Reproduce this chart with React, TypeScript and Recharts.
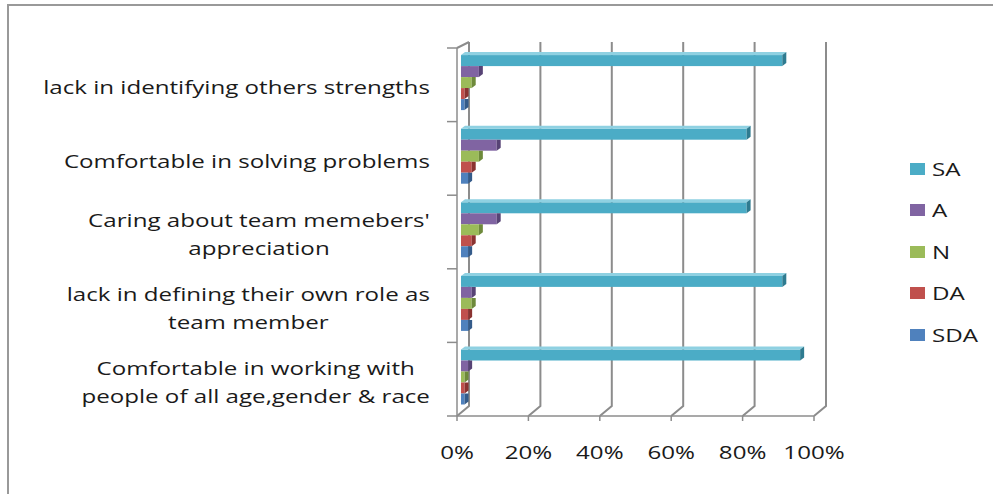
import React from 'react';
import { BarChart, Bar, XAxis, YAxis, CartesianGrid, Legend } from 'recharts';

// statements, top to bottom as they appear on the chart
const categories = [
  'lack in identifying others strengths',
  'Comfortable in solving problems',
  "Caring about team memebers'\nappreciation",
  'lack in defining their own role as\nteam member',
  'Comfortable in working with\npeople of all age,gender & race',
];

const saValues = [90, 80, 80, 90, 95];
const aValues = [5, 10, 10, 3, 2];
const nValues = [3, 5, 5, 3, 1];
const daValues = [1, 3, 3, 2, 1];
const sdaValues = [1, 2, 2, 2, 1];

const xTicks = [0, 20, 40, 60, 80, 100];

const data = categories.map((name, i) => ({
  name,
  SA: saValues[i],
  A: aValues[i],
  N: nValues[i],
  DA: daValues[i],
  SDA: sdaValues[i],
}));

const series = [
  { key: 'SA', fill: '#4BACC6', top: '#8fd1e2', side: '#2e7b90' },
  { key: 'A', fill: '#8064A2', top: '#a68ec4', side: '#574375' },
  { key: 'N', fill: '#9BBB59', top: '#c0d98e', side: '#6e8a3b' },
  { key: 'DA', fill: '#C0504D', top: '#d98583', side: '#8a3331' },
  { key: 'SDA', fill: '#4F81BD', top: '#87aad8', side: '#345b8a' },
];
const seriesOrder = series.map((s) => s.key);

const W = 993;
const H = 494;
const TOP = 48;
const BOTTOM = 416;
const LEFT = 457;
const RIGHT = 814;
const X_AXIS_H = 40;

// 3d look: back wall offset, bar offset and depth
const DX = 12;
const DY_TOP = -6;
const DY_BOT = -10;
const OX = 4;
const OY = -1;
const BD = 4;
const BDY = 3;

const FRAME = '#8c8c8c';
const TEXT = '#1a1a1a';
const FONT = '"Open Sans", sans-serif';
const FS = 19;
const SX = 1.27;

let ctx: CanvasRenderingContext2D | null = null;
const measure = (s: string) => {
  if (!ctx) ctx = document.createElement('canvas').getContext('2d');
  if (!ctx) return s.length * FS * 0.5;
  ctx.font = `${FS}px "Open Sans"`;
  return ctx.measureText(s).width;
};

const CategoryTick = (props: any) => {
  const { x, y, payload, index } = props;
  const lines = String(payload.value).split('\n');
  const maxW = Math.max(...lines.map(measure)) * SX;
  const cx = x - maxW / 2;
  const lh = 28;
  const y0 = y - ((lines.length - 1) * lh) / 2 + 2;
  const band = (BOTTOM - TOP) / categories.length;
  return (
    <g>
      <line x1={LEFT - 10} x2={LEFT} y1={y - band / 2} y2={y - band / 2} stroke={FRAME} strokeWidth={1.5} />
      {index === categories.length - 1 && (
        <line x1={LEFT - 10} x2={LEFT} y1={y + band / 2} y2={y + band / 2} stroke={FRAME} strokeWidth={1.5} />
      )}
      <g transform={`translate(${cx},0) scale(${SX},1)`}>
        {lines.map((l, i) => (
          <text
            key={i}
            x={0}
            y={y0 + i * lh}
            textAnchor="middle"
            dominantBaseline="central"
            fontFamily={FONT}
            fontSize={FS}
            fill={TEXT}
          >
            {l}
          </text>
        ))}
      </g>
    </g>
  );
};

const ValueTick = (props: any) => {
  const { x, y, payload } = props;
  return (
    <g transform={`translate(${x},${y + 29}) scale(${SX},1)`}>
      <text x={0} y={0} textAnchor="middle" dominantBaseline="central" fontFamily={FONT} fontSize={FS} fill={TEXT}>
        {`${payload.value}%`}
      </text>
    </g>
  );
};

const wallLine = (props: any) => {
  const { x1, y1, y2 } = props;
  const isLeft = Math.abs(x1 - LEFT) < 1;
  return (
    <g key={`wall-${x1}`}>
      <polyline
        points={`${x1 + DX},${y1 + DY_TOP} ${x1 + DX},${y2 + DY_BOT} ${x1},${y2}`}
        fill="none"
        stroke={FRAME}
        strokeWidth={2}
      />
      {isLeft && (
        <line x1={x1} y1={y1} x2={x1 + DX} y2={y1 + DY_TOP} stroke={FRAME} strokeWidth={2} />
      )}
    </g>
  );
};

const makeShape = (s: (typeof series)[number], first: boolean) => (props: any) => {
  const { x, y, width, height } = props;
  if (x == null || y == null || !height) return <g />;
  const w = Math.max(width || 0, 0);
  const fx = x + OX;
  const fy = y + OY;
  const xr = fx + w;
  const yb = fy + height;
  return (
    <g>
      <rect x={fx} y={fy} width={w} height={height} fill={s.fill} />
      {first ? (
        <>
          <polygon points={`${fx},${fy} ${fx + BD},${fy - BDY} ${xr + BD},${fy - BDY} ${xr},${fy}`} fill={s.top} />
          <polygon points={`${xr},${fy} ${xr + BD},${fy - BDY} ${xr + BD},${yb - BDY} ${xr},${yb}`} fill={s.side} />
        </>
      ) : (
        <polygon points={`${xr},${fy} ${xr + BD},${fy} ${xr + BD},${yb - BDY} ${xr},${yb}`} fill={s.side} />
      )}
    </g>
  );
};

const renderLegend = (props: any) => {
  const items = [...(props.payload || [])].sort(
    (a: any, b: any) => seriesOrder.indexOf(String(a.value)) - seriesOrder.indexOf(String(b.value))
  );
  return (
    <div>
      {items.map((p: any) => (
        <div key={p.value} style={{ height: 41.5, display: 'flex', alignItems: 'center' }}>
          <span style={{ display: 'inline-block', width: 15, height: 12, background: p.color, marginRight: 7 }} />
          <span
            style={{
              display: 'inline-block',
              fontFamily: FONT,
              fontSize: FS,
              color: TEXT,
              transform: `scaleX(${SX})`,
              transformOrigin: 'left center',
            }}
          >
            {p.value}
          </span>
        </div>
      ))}
    </div>
  );
};

export default function App() {
  return (
    <div style={{ position: 'absolute', left: 0, top: 0, width: W, height: H, background: '#fff', overflow: 'hidden' }}>
      <div
        style={{
          position: 'absolute',
          left: 7,
          top: 4,
          width: W,
          height: H,
          borderTop: '2px solid #999',
          borderLeft: '2px solid #999',
        }}
      />
      <BarChart
        width={W}
        height={H}
        data={data}
        layout="vertical"
        margin={{ top: TOP, right: W - RIGHT, left: 0, bottom: H - BOTTOM - X_AXIS_H }}
        barCategoryGap="11%"
        barGap={0}
      >
        <CartesianGrid horizontal={false} vertical={wallLine} />
        <XAxis
          type="number"
          domain={[0, 100]}
          ticks={xTicks}
          height={X_AXIS_H}
          axisLine={{ stroke: FRAME, strokeWidth: 1.5 }}
          tickLine={{ stroke: FRAME, strokeWidth: 1.5 }}
          tickSize={5}
          tickMargin={2}
          tick={<ValueTick />}
        />
        <YAxis
          type="category"
          dataKey="name"
          width={LEFT}
          axisLine={{ stroke: FRAME, strokeWidth: 1.5 }}
          tickLine={false}
          tickSize={0}
          tickMargin={27}
          interval={0}
          tick={<CategoryTick />}
        />
        <Legend
          layout="vertical"
          align="center"
          verticalAlign="middle"
          content={renderLegend}
          wrapperStyle={{ left: 910, top: 148, width: 80 }}
        />
        {series.map((s, i) => (
          <Bar key={s.key} dataKey={s.key} name={s.key} fill={s.fill} isAnimationActive={false} shape={makeShape(s, i === 0)} />
        ))}
      </BarChart>
    </div>
  );
}
